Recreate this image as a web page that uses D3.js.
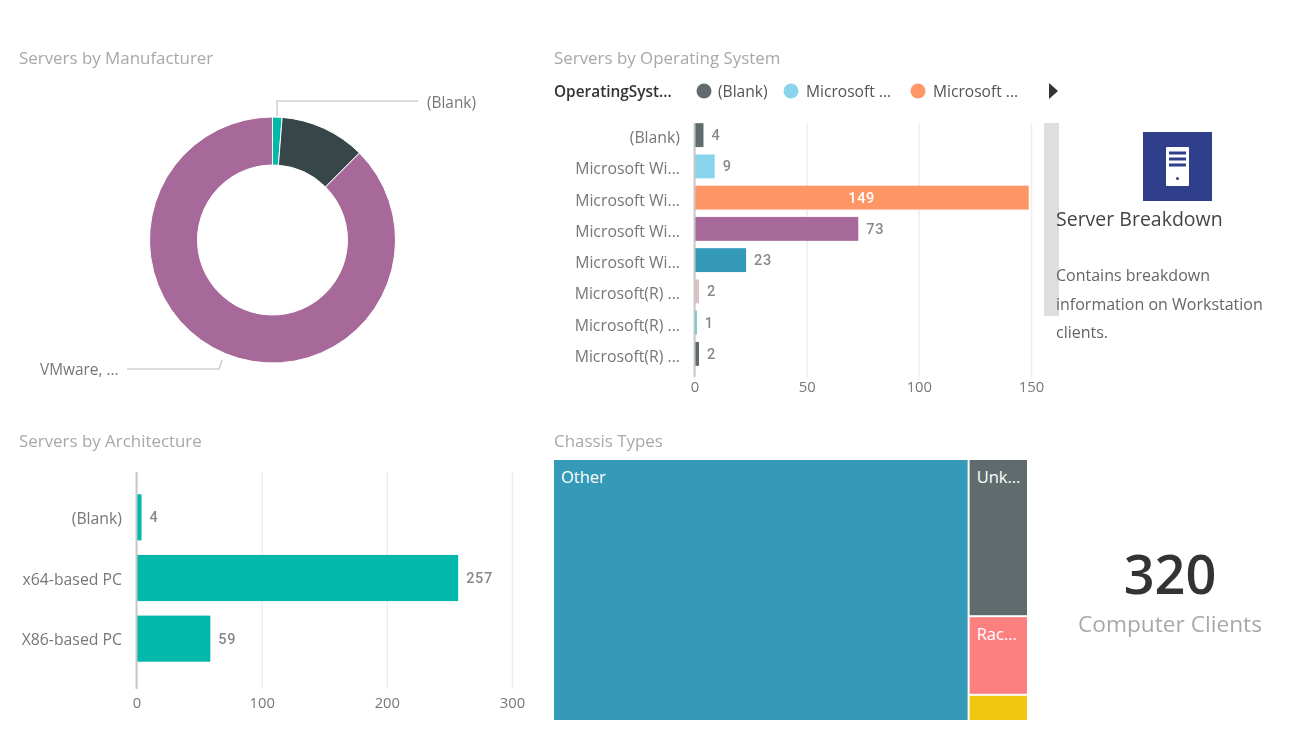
<!DOCTYPE html>
<html><head><meta charset="utf-8">
<script src="https://cdn.jsdelivr.net/npm/d3@7"></script>
<style>
html,body{margin:0;padding:0;background:#fff;overflow:hidden}
svg{display:block;font-family:"Open Sans","Noto Sans",sans-serif;filter:blur(0.3px)}
</style></head><body><svg id="c" width="1307" height="731"></svg>
<script>
const donutNames=["(Blank)","Other","VMware, ..."];
const donutValues=[4,36,280];
const donutColors=["#01B8AA","#374649","#A66999"];

const osCategories=["(Blank)","Microsoft Wi...","Microsoft Wi...","Microsoft Wi...","Microsoft Wi...","Microsoft(R) ...","Microsoft(R) ...","Microsoft(R) ..."];
const osValues=[4,9,149,73,23,2,1,2];
const osColors=["#5F6B6D","#8AD4EB","#FE9666","#A66999","#3599B8","#DFBFBF","#4AC5BB","#5F6B6D"];
const osTicks=[0,50,100,150];
const legendTitle="OperatingSyst...";
const legendLabels=["(Blank)","Microsoft ...","Microsoft ..."];
const legendColors=["#5F6B6D","#8AD4EB","#FE9666"];

const archCategories=["(Blank)","x64-based PC","X86-based PC"];
const archValues=[4,257,59];
const archTicks=[0,100,200,300];

const chassisNames=["Other","Unk...","Rac...",""];
const chassisValues=[280,24,12,4];
const chassisColors=["#3599B8","#5F6B6D","#FD8080","#F2C80F"];

const titles=["Servers by Manufacturer","Servers by Operating System","Servers by Architecture","Chassis Types"];
const cardTitle="Server Breakdown";
const cardLines=["Contains breakdown","information on Workstation","clients."];
const kpiValue="320";
const kpiLabel="Computer Clients";

const svg=d3.select("#c");
const GRAY="#a8a8a8", LABEL="#777", GRID="#eeeeee", LEADER="#cfcfcf";

// titles
[[19,64],[554,64],[19,447],[554,447]].forEach((p,i)=>{
  svg.append("text").attr("x",p[0]).attr("y",p[1]).attr("font-size",16.9).attr("fill",GRAY).text(titles[i]);
});

// donut
const cx=272.5,cy=240;
const pie=d3.pie().sort(null)(donutValues);
const arc=d3.arc().innerRadius(75).outerRadius(123);
const gd=svg.append("g").attr("transform",`translate(${cx},${cy})`);
gd.selectAll("path").data(pie).join("path").attr("d",arc)
  .attr("fill",(d,i)=>donutColors[i]).attr("stroke","#fff").attr("stroke-width",1);
const leaderTop=d3.line()([[277,116],[277,101],[418,101]]);
const leaderBot=d3.line()([[222,360],[219,369],[127,369]]);
svg.append("path").attr("d",leaderTop).attr("fill","none").attr("stroke",LEADER).attr("stroke-width",1.5);
svg.append("path").attr("d",leaderBot).attr("fill","none").attr("stroke",LEADER).attr("stroke-width",1.5);
svg.append("text").attr("x",427).attr("y",107.5).attr("font-size",15.4).attr("fill",LABEL).text(donutNames[0]);
svg.append("text").attr("x",40).attr("y",374.5).attr("font-size",15.4).attr("fill",LABEL).text(donutNames[2]);

function barChart(o){
  const x=d3.scaleLinear().domain(o.domain).range(o.xr);
  const y=d3.scaleBand().domain(d3.range(o.cats.length)).range(o.yr).paddingInner(o.pad).paddingOuter(o.pad/2);
  const g=svg.append("g");
  const ax=g.append("g").attr("transform",`translate(0,${o.gridY[1]})`)
    .call(d3.axisBottom(x).tickValues(o.ticks).tickSize(o.gridY[0]-o.gridY[1]).tickPadding(0).tickFormat(d3.format("d")));
  ax.select(".domain").remove();
  ax.selectAll("line").attr("stroke",GRID).attr("stroke-width",1.5);
  ax.selectAll("text").attr("y",o.tickDy).attr("dy",0).attr("font-size",14.8).attr("fill",LABEL).attr("font-family",'"Open Sans"');
  g.selectAll("rect.bar").data(o.vals).join("rect").attr("class","bar")
    .attr("x",x(0)).attr("y",(d,i)=>y(i)).attr("width",d=>x(d)-x(0)).attr("height",y.bandwidth())
    .attr("fill",(d,i)=>o.colors?o.colors[i]:o.color);
  g.append("line").attr("x1",x(0)).attr("x2",x(0)).attr("y1",o.gridY[0]).attr("y2",o.gridY[1]).attr("stroke","#c8c8c8").attr("stroke-width",2);
  g.selectAll("text.cat").data(o.cats).join("text").attr("class","cat")
    .attr("x",o.catX).attr("y",(d,i)=>y(i)+y.bandwidth()/2+o.catDy).attr("text-anchor","end")
    .attr("font-size",15.8).attr("fill",LABEL).text(d=>d);
  g.selectAll("text.val").data(o.vals).join("text").attr("class","val")
    .attr("x",d=>o.inside&&d>=o.inside?(x(0)+x(d))/2:x(d)+8)
    .attr("y",(d,i)=>y(i)+y.bandwidth()/2+5)
    .attr("text-anchor",d=>o.inside&&d>=o.inside?"middle":"start")
    .attr("font-family","Roboto").attr("font-weight",500).attr("letter-spacing",0.7)
    .attr("font-size",14.5).attr("fill",d=>o.inside&&d>=o.inside?"#fff":"#888").text(d=>d);
}

barChart({cats:osCategories,vals:osValues,colors:osColors,ticks:osTicks,domain:[0,150],xr:[694.5,1031],
  yr:[119.5,369.5],pad:0.235,gridY:[123,377],tickDy:15,catX:680,inside:100,catDy:8});
barChart({cats:archCategories,vals:archValues,color:"#01B8AA",ticks:archTicks,domain:[0,300],xr:[136.5,512],
  yr:[487,669],pad:0.24,gridY:[472,689],tickDy:19,catX:122,catDy:6.5});

// legend
svg.append("text").attr("x",554).attr("y",96.5).attr("font-size",15.4).attr("font-weight",600).attr("fill","#333").text(legendTitle);
[[704,718],[791,806],[918,933]].forEach((p,i)=>{
  svg.append("circle").attr("cx",p[0]).attr("cy",91).attr("r",7.5).attr("fill",legendColors[i]);
  svg.append("text").attr("x",p[1]).attr("y",96.5).attr("font-size",15.6).attr("fill","#555").text(legendLabels[i]);
});
svg.append("path").attr("d","M1049,83L1058,91L1049,99Z").attr("fill","#333");

// scrollbar and card
svg.append("rect").attr("x",1044).attr("y",123).attr("width",15).attr("height",193).attr("fill","#dedede");
svg.append("rect").attr("x",1143).attr("y",132).attr("width",69).attr("height",69).attr("fill","#303F8B");
svg.append("rect").attr("x",1166).attr("y",147).attr("width",23).attr("height",39).attr("rx",1).attr("fill","#fff");
[152,158,164].forEach(y=>svg.append("rect").attr("x",1169).attr("y",y-0.5).attr("width",17).attr("height",3).attr("fill","#303F8B"));
svg.append("circle").attr("cx",1177.5).attr("cy",178.5).attr("r",1.5).attr("fill","#303F8B");
svg.append("text").attr("x",1056).attr("y",226).attr("font-size",19.5).attr("fill","#444").text(cardTitle);
cardLines.forEach((t,i)=>svg.append("text").attr("x",1056).attr("y",281+i*28.6).attr("font-size",16).attr("fill","#666").text(t));

// treemap
const root=d3.hierarchy({children:[{i:0,value:chassisValues[0]},{children:[1,2,3].map(i=>({i,value:chassisValues[i]}))}]}).sum(d=>d.value||0);
d3.treemap().tile(d3.treemapSliceDice).size([473,260]).paddingInner(2)(root);
const gt=svg.append("g").attr("transform","translate(554,460)");
const leaves=gt.selectAll("g").data(root.leaves()).join("g").attr("transform",d=>`translate(${d.x0},${d.y0})`);
leaves.append("rect").attr("width",d=>d.x1-d.x0).attr("height",d=>d.y1-d.y0).attr("fill",d=>chassisColors[d.data.i]);
leaves.append("text").attr("x",7).attr("y",23).attr("font-size",16.5).attr("fill","#fff").text(d=>chassisNames[d.data.i]);

// KPI
svg.append("text").attr("x",1170).attr("y",594).attr("text-anchor","middle").attr("font-size",54).attr("font-weight",600).attr("fill","#333").text(kpiValue);
svg.append("text").attr("x",1170).attr("y",632).attr("text-anchor","middle").attr("font-size",22.7).attr("fill",GRAY).text(kpiLabel);
</script></body></html>
